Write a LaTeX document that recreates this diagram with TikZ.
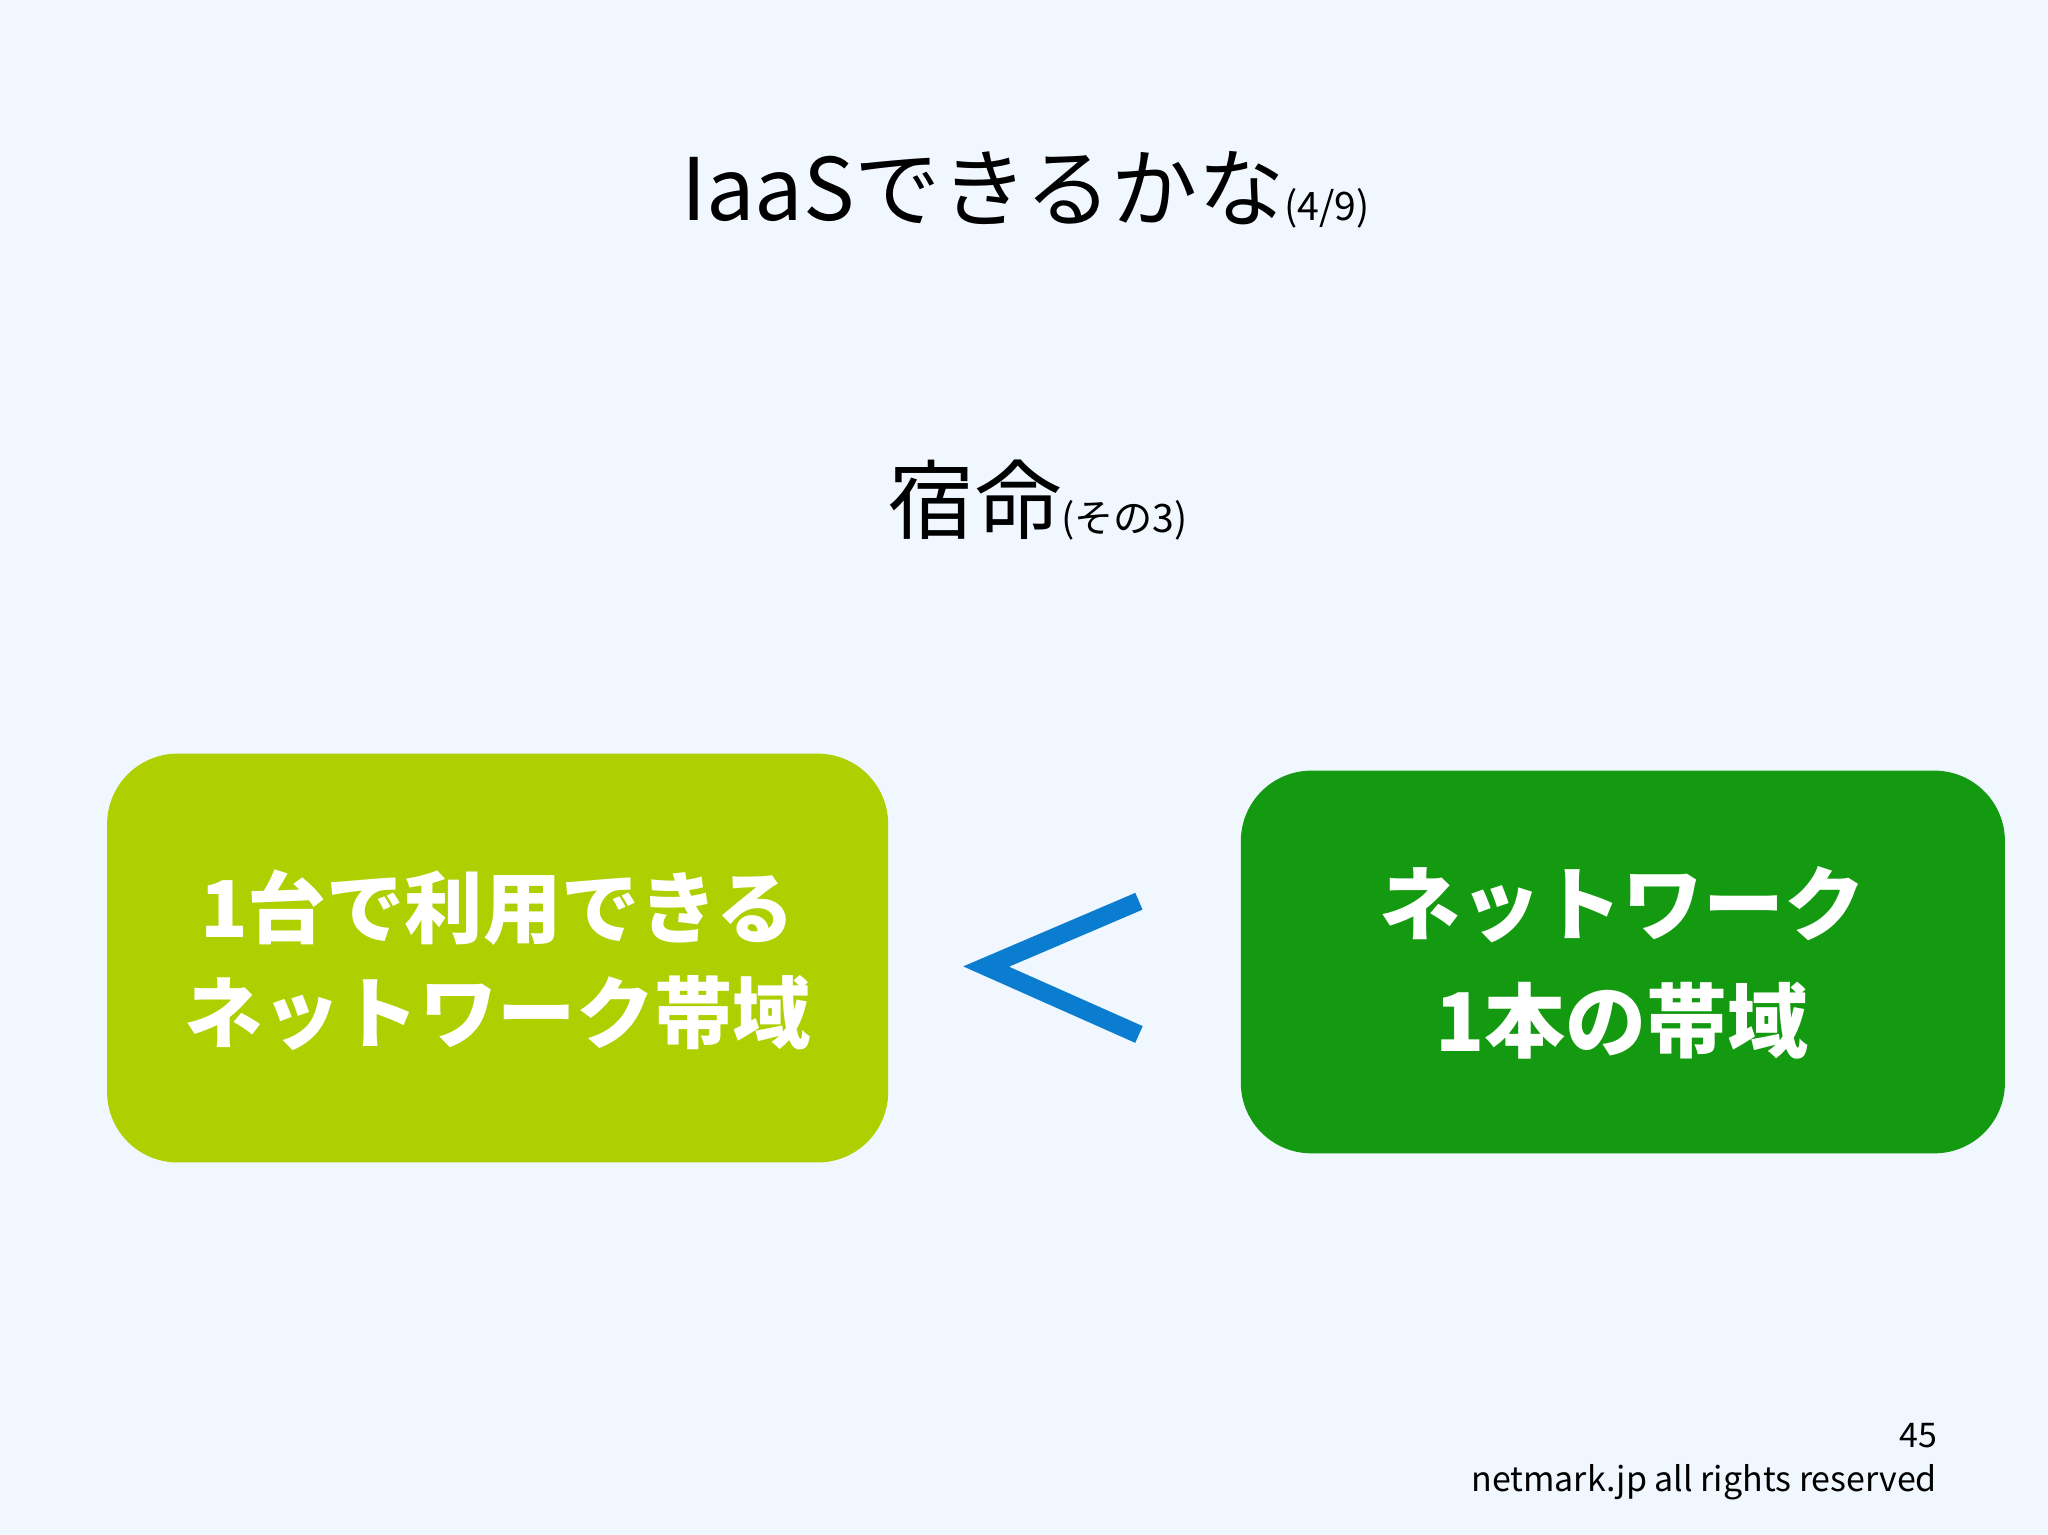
\documentclass[tikz,border=0pt]{standalone}
\usepackage{fontspec}
\setmainfont{Noto Sans CJK JP}
\definecolor{bg}{HTML}{F1F7FE}
\definecolor{lime}{HTML}{AECF00}
\definecolor{grn}{HTML}{149A10}
\definecolor{blu}{HTML}{0A7DD0}
\begin{document}
\begin{tikzpicture}[x=0.5pt,y=-0.5pt,
  box/.style={rounded corners=27pt,inner sep=0pt},
  boxtxt/.style={text=white,align=center,font=\fontsize{30}{40}\selectfont\bfseries}]
\fill[bg] (0,0) rectangle (1568,1175);
\useasboundingbox (0,0) rectangle (1568,1175);
\node (title) at (785,145) {\fontsize{33}{36}\selectfont IaaSできるかな{\fontsize{15}{16}\selectfont(4/9)}};
\node (sub) at (795,383) {\fontsize{33}{36}\selectfont 宿命{\fontsize{15}{16}\selectfont(その3)}};
\fill[lime,box] (82,577) rectangle (680,890);
\node (lbox) [boxtxt] at (381,735) {1台で利用できる\\ネットワーク帯域};
\fill[grn,box] (950,590) rectangle (1535,883);
\node (rbox) [boxtxt,font=\fontsize{31}{45}\selectfont\bfseries] at (1242,737) {ネットワーク\\1本の帯域};
\draw[blu,line width=7pt,line join=miter] (872,690)--(755,740)--(872,792);
\node (pg) [anchor=east] at (1490,1099) {\fontsize{13}{14}\selectfont 45};
\node (foot) [anchor=east] at (1490,1135) {\fontsize{13}{14}\selectfont netmark.jp all rights reserved};
\end{tikzpicture}
\end{document}
